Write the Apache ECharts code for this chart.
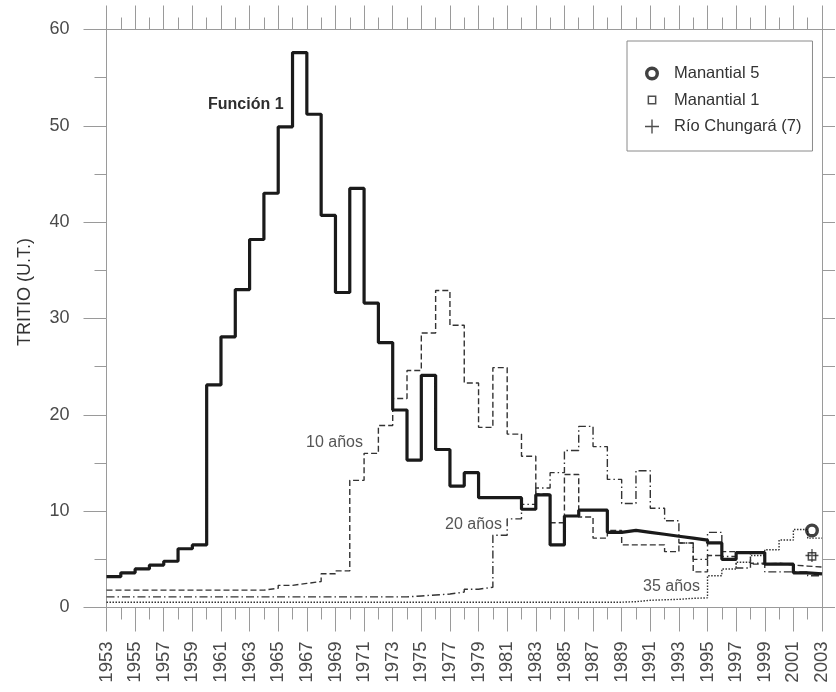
<!DOCTYPE html>
<html><head><meta charset="utf-8">
<script src="https://cdn.jsdelivr.net/npm/echarts@6/dist/echarts.min.js"></script>
<style>html,body{margin:0;padding:0;background:#fff}#c{width:836px;height:692px}</style>
</head><body><div id="c"></div>
<script>
// ---------- data ----------
const years = [1953,1954,1955,1956,1957,1958,1959,1960,1961,1962,1963,1964,1965,1966,1967,1968,1969,1970,1971,1972,
  1973,1974,1975,1976,1977,1978,1979,1980,1981,1982,1983,1984,1985,1986,1987,1988,1989,1990,1991,1992,
  1993,1994,1995,1996,1997,1998,1999,2000,2001,2002];
const tickYears = ['1953','1954','1955','1956','1957','1958','1959','1960','1961','1962','1963','1964','1965','1966','1967','1968','1969','1970','1971','1972',
  '1973','1974','1975','1976','1977','1978','1979','1980','1981','1982','1983','1984','1985','1986','1987','1988','1989','1990','1991','1992',
  '1993','1994','1995','1996','1997','1998','1999','2000','2001','2002','2003'];
const funcion1 = [3.2,3.6,4.0,4.4,4.8,6.1,6.5,23.1,28.1,33.0,38.2,43.0,49.9,57.6,51.2,40.7,32.7,43.5,31.6,27.5,
  20.5,15.3,24.1,16.4,12.6,14.0,11.4,11.4,11.4,10.2,11.7,6.5,9.5,10.1,10.1,7.8,8.0,7.8,7.6,7.4,
  7.2,7.0,6.7,5.0,5.7,5.7,4.5,4.5,3.6,3.5];
const anos10 = [1.8,1.8,1.8,1.8,1.8,1.8,1.8,1.8,1.8,1.8,1.8,2.0,2.3,2.5,2.7,3.5,3.8,13.2,16.0,18.9,
  21.7,24.6,28.5,32.9,29.3,23.3,18.7,24.9,18.0,15.7,11.8,8.8,13.8,9.4,7.2,8.0,6.5,6.5,6.5,5.8,
  6.7,3.7,5.4,5.8,5.8,4.5,4.6,4.4,4.3,4.2];
const anos20 = [1.1,1.1,1.1,1.1,1.1,1.1,1.1,1.1,1.1,1.1,1.1,1.1,1.1,1.1,1.1,1.1,1.1,1.1,1.1,1.1,
  1.1,1.2,1.3,1.4,1.6,1.9,2.1,7.5,9.2,10.7,12.4,14.0,16.3,18.8,16.7,13.3,10.8,14.2,10.3,9.0,
  6.7,5.0,7.8,5.3,4.1,4.6,3.7,3.7,3.7,3.3];
const anos35 = [0.55,0.55,0.55,0.55,0.55,0.55,0.55,0.55,0.55,0.55,0.55,0.55,0.55,0.55,0.55,0.55,0.55,0.55,0.55,0.55,
  0.55,0.55,0.55,0.55,0.55,0.55,0.55,0.55,0.55,0.55,0.55,0.55,0.55,0.55,0.55,0.55,0.6,0.75,0.8,0.85,
  0.95,1.0,3.3,4.0,4.7,5.4,6.0,7.0,8.1,7.2];
const manantial5 = [[2002.3, 8.0]];
const manantial1 = [[2002.3, 5.3]];
const rioChungara = [[2002.3, 5.4]];
const yTicks = [0,10,20,30,40,50,60];

// ---------- helpers ----------
const FONT = 'Liberation Sans, Arial, sans-serif';
const AX = '#9a9a9a';
const TXT = '#4a4a4a';
function stepData(vals) {
  const d = years.map((y, i) => [y, vals[i]]);
  d.push([2003, vals[vals.length - 1]]);
  return d;
}
const ringPath = 'path://M0,7A7,7 0 1,1 14,7A7,7 0 1,1 0,7Z M3.4,7A3.6,3.6 0 1,0 10.6,7A3.6,3.6 0 1,0 3.4,7Z';
const squarePath = 'path://M0,0L0.01,0L0,0.01Z M14,14L13.99,14L14,13.99Z M2.6,2.6H11.4V11.4H2.6Z M4.1,4.1V9.9H9.9V4.1Z';
const plusPath = 'path://M6.3,0H7.7V6.3H14V7.7H7.7V14H6.3V7.7H0V6.3H6.3Z';

const chart = echarts.init(document.getElementById('c'), null, {renderer: 'canvas'});
const lineBase = {type: 'line', showSymbol: false, symbol: 'none', step: 'end', xAxisIndex: 0, yAxisIndex: 0, silent: true, animation: false};

chart.setOption({
  animation: false,
  backgroundColor: '#fff',
  textStyle: {fontFamily: FONT},
  grid: {left: 106.5, right: 14, top: 29.5, bottom: 84.5, containLabel: false},
  xAxis: [
    {type: 'value', min: 1953, max: 2003, interval: 1, position: 'bottom',
      axisLine: {show: true, onZero: false, lineStyle: {color: AX, width: 1}},
      axisTick: {show: true, length: 12, lineStyle: {color: AX}},
      axisLabel: {show: false}, splitLine: {show: false}},
    {type: 'category', data: tickYears, boundaryGap: false, position: 'bottom',
      axisLine: {show: false, onZero: false},
      axisTick: {show: true, interval: 1, length: 24, lineStyle: {color: AX}},
      axisLabel: {show: true, interval: 1, rotate: 90, margin: 34, fontSize: 18.5, color: TXT, fontFamily: FONT},
      splitLine: {show: false}},
    {type: 'value', min: 1953, max: 2003, interval: 1, position: 'top',
      axisLine: {show: true, onZero: false, lineStyle: {color: AX, width: 1}},
      axisTick: {show: true, length: 12, lineStyle: {color: AX}},
      axisLabel: {show: false}, splitLine: {show: false}},
    {type: 'category', data: tickYears, boundaryGap: false, position: 'top',
      axisLine: {show: false, onZero: false},
      axisTick: {show: true, interval: 1, length: 24, lineStyle: {color: AX}},
      axisLabel: {show: false}, splitLine: {show: false}}
  ],
  yAxis: [
    {type: 'value', min: 0, max: 60, interval: 10, position: 'left',
      axisLine: {show: true, onZero: false, lineStyle: {color: AX, width: 1}},
      axisTick: {show: true, length: 23, lineStyle: {color: AX}},
      minorTick: {show: true, splitNumber: 2, length: 12, lineStyle: {color: AX}},
      axisLabel: {show: true, margin: 37, fontSize: 18, color: TXT, fontFamily: FONT,
        formatter: v => yTicks.indexOf(v) >= 0 ? String(v) : ''},
      splitLine: {show: false}},
    {type: 'value', min: 0, max: 60, interval: 5, position: 'right',
      axisLine: {show: true, onZero: false, lineStyle: {color: AX, width: 1}},
      axisTick: {show: true, length: 13, lineStyle: {color: AX}},
      axisLabel: {show: false}, splitLine: {show: false}}
  ],
  legend: {
    data: ['Manantial 5', 'Manantial 1', 'Río Chungará (7)'],
    orient: 'vertical', left: 627, top: 41,
    padding: [24, 11, 16, 18], itemGap: 9.5, itemWidth: 14, itemHeight: 14,
    borderColor: '#8a8a8a', borderWidth: 1, selectedMode: false,
    textStyle: {fontSize: 16.5, color: '#333', fontFamily: FONT, padding: [0, 0, 0, 10]}
  },
  graphic: [
    {type: 'text', x: 208, y: 105, silent: true,
      style: {text: 'Función 1', font: 'bold 16px ' + FONT, fill: '#2e2e2e', align: 'left', verticalAlign: 'middle', textAlign: 'left', textVerticalAlign: 'middle'}},
    {type: 'text', x: 306, y: 443, silent: true,
      style: {text: '10 años', font: '16px ' + FONT, fill: '#555', align: 'left', verticalAlign: 'middle', textAlign: 'left', textVerticalAlign: 'middle'}},
    {type: 'text', x: 445, y: 525, silent: true,
      style: {text: '20 años', font: '16px ' + FONT, fill: '#555', align: 'left', verticalAlign: 'middle', textAlign: 'left', textVerticalAlign: 'middle'}},
    {type: 'text', x: 643, y: 587, silent: true,
      style: {text: '35 años', font: '16px ' + FONT, fill: '#555', align: 'left', verticalAlign: 'middle', textAlign: 'left', textVerticalAlign: 'middle'}},
    {type: 'text', x: 25, y: 292, rotation: Math.PI / 2, silent: true,
      style: {text: 'TRITIO (U.T.)', font: '18px ' + FONT, fill: '#333', align: 'center', verticalAlign: 'middle', textAlign: 'center', textVerticalAlign: 'middle'}}
  ],
  series: [
    Object.assign({}, lineBase, {name: '35 años', data: stepData(anos35), lineStyle: {color: '#333', width: 1.4, type: [1.5, 1.5]}}),
    Object.assign({}, lineBase, {name: '20 años', data: stepData(anos20), lineStyle: {color: '#333', width: 1.4, type: [8, 3, 1.5, 3]}}),
    Object.assign({}, lineBase, {name: '10 años', data: stepData(anos10), lineStyle: {color: '#333', width: 1.4, type: [6, 3]}}),
    Object.assign({}, lineBase, {name: 'Función 1', data: stepData(funcion1), lineStyle: {color: '#1a1a1a', width: 3.2, type: 'solid'}}),
    {type: 'scatter', name: 'Manantial 5', data: manantial5, symbol: ringPath, symbolSize: 14, xAxisIndex: 0, yAxisIndex: 0,
      itemStyle: {color: '#111'}, z: 5},
    {type: 'scatter', name: 'Manantial 1', data: manantial1, symbol: squarePath, symbolSize: 14, xAxisIndex: 0, yAxisIndex: 0,
      itemStyle: {color: '#222'}, z: 5},
    {type: 'scatter', name: 'Río Chungará (7)', data: rioChungara, symbol: plusPath, symbolSize: 13, xAxisIndex: 0, yAxisIndex: 0,
      itemStyle: {color: '#222'}, z: 6}
  ]
});
</script>
</body></html>
